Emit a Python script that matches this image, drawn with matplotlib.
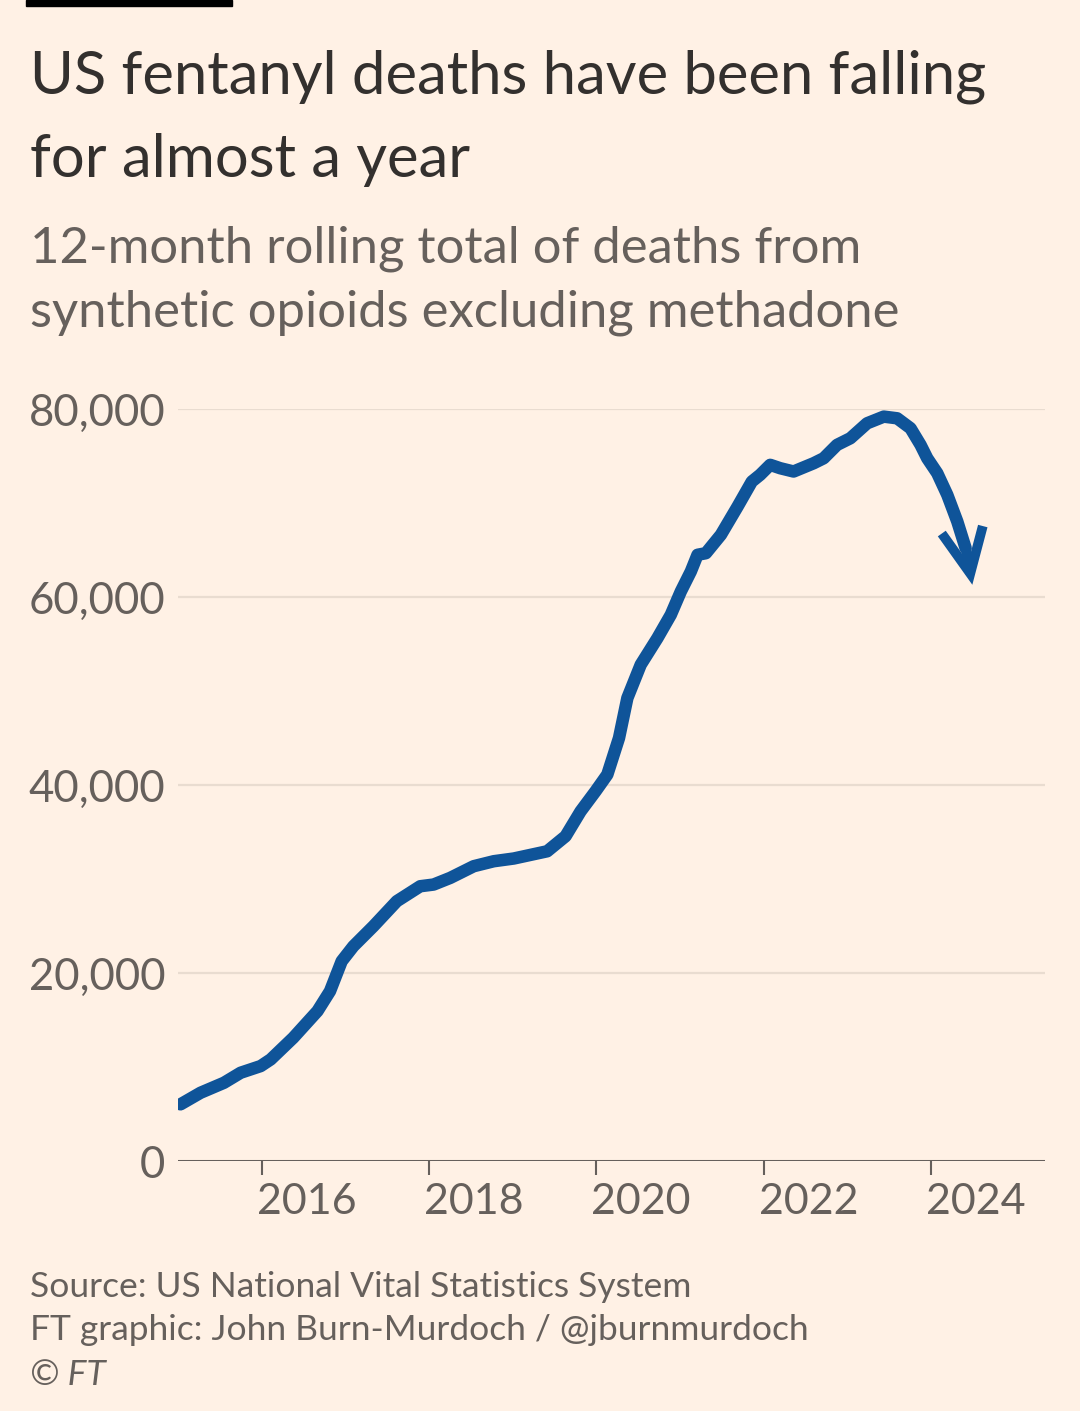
import numpy as np
import matplotlib
matplotlib.use("Agg")
import matplotlib.pyplot as plt
import matplotlib.transforms as mtransforms

# 12-month rolling total (decimal year, deaths)
years = [2015.02, 2015.26, 2015.54, 2015.74, 2015.98, 2016.10, 2016.37, 2016.66,
         2016.81, 2016.95, 2017.09, 2017.33, 2017.61, 2017.89, 2018.05, 2018.25,
         2018.53, 2018.77, 2019.01, 2019.41, 2019.63, 2019.81, 2019.99, 2020.13,
         2020.27, 2020.37, 2020.53, 2020.73, 2020.89, 2021.01, 2021.13, 2021.21,
         2021.31, 2021.49, 2021.69, 2021.86, 2021.96, 2022.08, 2022.20, 2022.36,
         2022.60, 2022.72, 2022.88, 2023.04, 2023.24, 2023.44, 2023.60, 2023.76,
         2023.88, 2023.96, 2024.08, 2024.20, 2024.32, 2024.42]
deaths = [6030, 7260, 8320, 9390, 10100, 10810, 13110, 15950,
          18070, 21260, 22850, 24980, 27640, 29230, 29410, 30120,
          31360, 31890, 32180, 32950, 34550, 37200, 39350, 41110,
          45000, 49250, 52800, 55630, 58110, 60590, 62720, 64490,
          64660, 66620, 69630, 72280, 73000, 74060, 73700, 73350,
          74230, 74760, 76180, 76890, 78480, 79190, 79010, 77950,
          76180, 74760, 73170, 70870, 68030, 65190]
arrow_end = (2024.50, 61300)

yticks = [0, 20000, 40000, 60000, 80000]
ytick_labels = ["0", "20,000", "40,000", "60,000", "80,000"]
xticks = [2016, 2018, 2020, 2022, 2024]
xtick_labels = ["2016", "2018", "2020", "2022", "2024"]

title = "US fentanyl deaths have been falling\nfor almost a year"
subtitle = "12-month rolling total of deaths from\nsynthetic opioids excluding methadone"
source_lines = ["Source: US National Vital Statistics System",
                "FT graphic: John Burn-Murdoch / @jburnmurdoch"]

bg = "#FFF1E5"
blue = "#0F5499"
grey = "#66605C"
dark = "#33302E"
gridc = "#E9DCD0"

plt.rcParams['font.family'] = ['Lato', 'DejaVu Sans']

W, H = 1080, 1411
fig = plt.figure(figsize=(W / 100, H / 100), dpi=100, facecolor=bg)

def fy(py):
    return 1 - py / H

ax = fig.add_axes([178 / W, fy(1161), (1045 - 178) / W, (1161 - 409) / H])
ax.set_facecolor(bg)

ax.plot(years, deaths, color=blue, lw=9, solid_capstyle='round',
        solid_joinstyle='round', zorder=3)
ax.annotate("", xy=arrow_end, xytext=(years[-1], deaths[-1]),
            arrowprops=dict(arrowstyle="->,head_length=3.2,head_width=1.5",
                            color=blue, lw=7, shrinkA=0, shrinkB=0,
                            joinstyle='miter', capstyle='butt'),
            zorder=4)

ax.set_xlim(2014.99, 2025.37)
ax.set_ylim(0, 80000)

ax.set_yticks(yticks, ytick_labels)
for y in yticks[1:]:
    ax.axhline(y, color=gridc, lw=1.6, zorder=1)
ax.axhline(0, color=grey, lw=2.2, zorder=2)

ax.set_xticks(xticks, xtick_labels)
ax.tick_params(axis='x', length=10, width=1.5, color=grey, pad=6,
               labelsize=31, labelcolor=grey)
ax.tick_params(axis='y', length=0, pad=9, labelsize=31.5, labelcolor=grey)
offset = mtransforms.ScaledTranslation(-5 / 100, 0, fig.dpi_scale_trans)
for lbl in ax.get_xticklabels():
    lbl.set_ha('left')
    lbl.set_transform(lbl.get_transform() + offset)

for s in ax.spines.values():
    s.set_visible(False)

# black bar top left
fig.add_artist(plt.Rectangle((26 / W, fy(6)), (232 - 26) / W, 6 / H,
                             color="black", transform=fig.transFigure))

fig.text(30 / W, fy(93), title.split("\n")[0], fontsize=43, color=dark, va='baseline')
fig.text(30 / W, fy(177), title.split("\n")[1], fontsize=43, color=dark, va='baseline')
fig.text(30 / W, fy(262), subtitle.split("\n")[0], fontsize=36.5, color=grey, va='baseline')
fig.text(30 / W, fy(326), subtitle.split("\n")[1], fontsize=36.5, color=grey, va='baseline')

fig.text(30 / W, fy(1297), source_lines[0], fontsize=25.5, color=grey, va='baseline')
fig.text(30 / W, fy(1340), source_lines[1], fontsize=25.5, color=grey, va='baseline')
fig.text(30 / W, fy(1385), "© FT", fontsize=25.5, color=grey, va='baseline', style='italic')

fig.savefig("out.png", dpi=100, facecolor=bg)
